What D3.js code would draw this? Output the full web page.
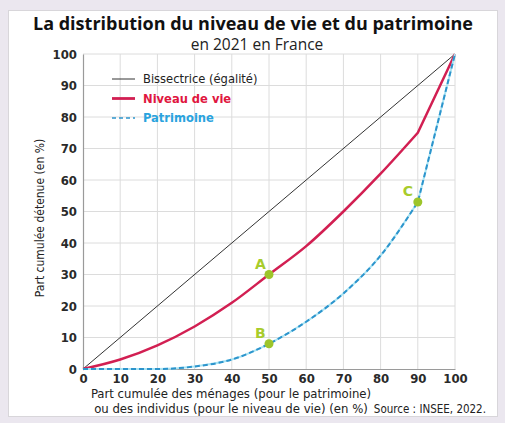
<!DOCTYPE html>
<html>
<head>
<meta charset="utf-8">
<script src="https://cdn.jsdelivr.net/npm/d3@7"></script>
<style>
  body { margin: 0; background: #ebe7ef; }
  svg { display: block; }
  text { font-family: "DejaVu Sans", sans-serif; font-stretch: condensed; }
</style>
</head>
<body>
<svg id="chart"></svg>
<script>
// data
const xValues = [0, 10, 20, 30, 40, 50, 60, 70, 80, 90, 100]
const niveauDeVie = [0, 3, 7.5, 13.5, 21, 30, 39, 50, 62, 75, 100]
const patrimoine = [0, 0, 0, 0.8, 3, 8, 15, 24, 36, 53, 100]
const bissectrice = [0, 100]
const bissectriceX = [0, 100]
const ticks = [0, 10, 20, 30, 40, 50, 60, 70, 80, 90, 100]
const pointLabels = ["A", "B", "C"]
const pointX = [50, 50, 90]
const pointY = [30, 8, 53]

const width = 505, height = 423
const margin = { top: 54, right: 50, bottom: 54, left: 83 }

const svg = d3.select("#chart")
  .attr("width", width)
  .attr("height", height)

// frame
svg.append("rect")
  .attr("x", 8.5).attr("y", 10.5)
  .attr("width", 489).attr("height", 406)
  .attr("fill", "#fff")
  .attr("stroke", "#d8d6da")

const x = d3.scaleLinear().domain([0, 100]).range([margin.left, width - margin.right])
const y = d3.scaleLinear().domain([0, 100]).range([height - margin.bottom, margin.top])

// grid
const grid = svg.append("g")
grid.selectAll(".gx").data(ticks.slice(1)).join("line")
  .attr("x1", d => x(d)).attr("x2", d => x(d))
  .attr("y1", y(0)).attr("y2", y(100))
  .attr("stroke", "#dcdcdc").attr("stroke-width", 1)
grid.selectAll(".gy").data(ticks.slice(1)).join("line")
  .attr("x1", x(0)).attr("x2", x(100))
  .attr("y1", d => y(d)).attr("y2", d => y(d))
  .attr("stroke", "#dcdcdc").attr("stroke-width", 1)

// axes
const xAxis = svg.append("g")
  .attr("transform", `translate(0,${y(0)})`)
  .call(d3.axisBottom(x).tickValues(ticks).tickSize(0).tickPadding(5))
const yAxis = svg.append("g")
  .attr("transform", `translate(${x(0)},0)`)
  .call(d3.axisLeft(y).tickValues(ticks).tickSize(0).tickPadding(6))

;[xAxis, yAxis].forEach(a => {
  a.select(".domain").attr("stroke", "#9a9a9a").attr("stroke-width", 1.2)
  a.selectAll("text")
    .attr("font-size", 13)
    .attr("font-weight", "bold")
    .attr("fill", "#2a2a2a")
    .style("font-family", '"DejaVu Sans", sans-serif')
    .style("font-stretch", "condensed")
})

// lines: smooth up to 90 %, then straight to the last point
const line = d3.line().x(d => x(d[0])).y(d => y(d[1]))
const smooth = d3.line().x(d => x(d[0])).y(d => y(d[1])).curve(d3.curveMonotoneX)
const curvePath = pts => smooth(pts.slice(0, -1)) + line(pts.slice(-2)).replace(/^M/, "L")

svg.append("path")
  .datum(d3.zip(bissectriceX, bissectrice))
  .attr("d", line)
  .attr("fill", "none")
  .attr("stroke", "#333")
  .attr("stroke-width", 1)

svg.append("path")
  .datum(d3.zip(xValues, niveauDeVie))
  .attr("d", curvePath)
  .attr("fill", "none")
  .attr("stroke", "#d21f52")
  .attr("stroke-width", 2.5)
  .attr("stroke-linejoin", "round")

const patriData = d3.zip(xValues, patrimoine)
svg.append("path")
  .datum(patriData)
  .attr("d", curvePath)
  .attr("fill", "none")
  .attr("stroke", "#a8e4f4")
  .attr("stroke-width", 2)
svg.append("path")
  .datum(patriData)
  .attr("d", curvePath)
  .attr("fill", "none")
  .attr("stroke", "#2d94cc")
  .attr("stroke-width", 2)
  .attr("stroke-dasharray", "5,3")

// marked points
const marks = svg.append("g")
marks.selectAll("circle").data(pointLabels).join("circle")
  .attr("cx", (d, i) => x(pointX[i]))
  .attr("cy", (d, i) => y(pointY[i]))
  .attr("r", 4.5)
  .attr("fill", "#9dc52a")
marks.selectAll("text").data(pointLabels).join("text")
  .attr("x", (d, i) => x(pointX[i]) - (d === "C" ? 15 : 14))
  .attr("y", (d, i) => y(pointY[i]) - 6)
  .attr("font-size", 14)
  .attr("font-weight", "bold")
  .attr("fill", "#a8cc2c")
  .style("font-stretch", "normal")
  .text(d => d)

// legend
const legendItems = [
  { label: "Bissectrice (égalité)", color: "#333", text: "#222", w: 1, dash: null, bold: false },
  { label: "Niveau de vie", color: "#d21f52", text: "#e0163f", w: 2.8, dash: null, bold: true },
  { label: "Patrimoine", color: "#2d94cc", text: "#2aa3de", w: 1.6, dash: "4,3", bold: true }
]
const legend = svg.append("g").attr("transform", "translate(112,79)")
legend.selectAll("g").data(legendItems).join("g")
  .attr("transform", (d, i) => `translate(0,${i * 19.5})`)
  .each(function (d) {
    const g = d3.select(this)
    g.append("line")
      .attr("x1", 0).attr("x2", 23)
      .attr("stroke", d.color).attr("stroke-width", d.w)
      .attr("stroke-dasharray", d.dash)
    g.append("text")
      .attr("x", 31).attr("dy", "0.35em")
      .attr("font-size", 12.8)
      .attr("font-weight", d.bold ? "bold" : "normal")
      .attr("fill", d.text)
      .text(d.label)
  })

// titles
svg.append("text")
  .attr("x", 253).attr("y", 30)
  .attr("text-anchor", "middle")
  .attr("font-size", 18)
  .attr("font-weight", "bold")
  .attr("fill", "#111")
  .style("font-family", '"Open Sans", "Liberation Sans", sans-serif')
  .style("font-stretch", "normal")
  .text("La distribution du niveau de vie et du patrimoine")
svg.append("text")
  .attr("x", 257).attr("y", 50)
  .attr("text-anchor", "middle")
  .attr("font-size", 15.5)
  .attr("fill", "#222")
  .style("font-family", '"Open Sans", "Liberation Sans", sans-serif')
  .style("font-stretch", "normal")
  .text("en 2021 en France")

// axis titles
svg.append("text")
  .attr("transform", `translate(44,218) rotate(-90)`)
  .attr("text-anchor", "middle")
  .attr("font-size", 12)
  .attr("fill", "#222")
  .text("Part cumulée détenue (en %)")

const xt = svg.append("text")
  .attr("x", 231).attr("y", 398)
  .attr("text-anchor", "middle")
  .attr("font-size", 13)
  .attr("fill", "#222")
xt.append("tspan").attr("x", 231).text("Part cumulée des ménages (pour le patrimoine)")
xt.append("tspan").attr("x", 231).attr("dy", 15).text("ou des individus (pour le niveau de vie) (en %)")

svg.append("text")
  .attr("x", 486).attr("y", 413)
  .attr("text-anchor", "end")
  .attr("font-size", 11.5)
  .attr("fill", "#222")
  .text("Source : INSEE, 2022.")
</script>
</body>
</html>
